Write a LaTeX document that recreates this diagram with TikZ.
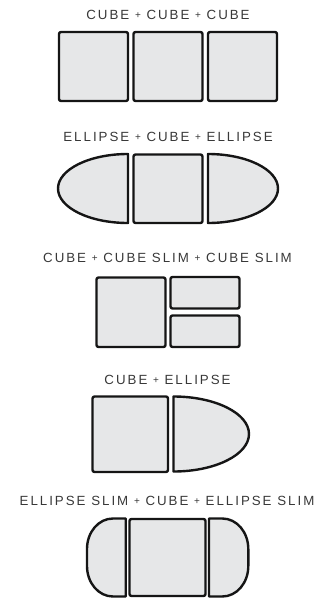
\documentclass[tikz,border=0pt]{standalone}
\usepackage{fontspec}
\setmainfont{Liberation Sans}[LetterSpace=15]
\definecolor{shapefill}{HTML}{E6E7E8}
\definecolor{shapeline}{HTML}{151515}
\definecolor{titletext}{HTML}{383838}
\newcommand\smallplus{{\fontsize{10}{12}\selectfont\raisebox{0.6pt}{+}}}
\tikzset{
  piece/.style={draw=shapeline, fill=shapefill, line width=2.4pt, line join=round},
  cube/.style={piece, rounded corners=2pt},
  title/.style={text=titletext, font=\fontsize{13.3}{15}\selectfont, inner sep=0pt, anchor=center},
}
\begin{document}
\begin{tikzpicture}[x=1pt,y=-1pt]
\useasboundingbox (0,0) rectangle (321,598);

% Row 1: CUBE + CUBE + CUBE
\node[title] (t1) at (168,14.5) {CUBE \smallplus{} CUBE \smallplus{} CUBE};
\draw[cube] (59,32) rectangle (128,101);
\draw[cube] (133.5,32) rectangle (202.5,101);
\draw[cube] (208,32) rectangle (277,101);

% Row 2: ELLIPSE + CUBE + ELLIPSE
\node[title] (t2) at (168,136.5) {ELLIPSE \smallplus{} CUBE \smallplus{} ELLIPSE};
\draw[piece] (128,154) .. controls (89.34,154) and (58,169.45) .. (58,188.5)
  .. controls (58,207.55) and (89.34,223) .. (128,223) -- cycle;
\draw[cube] (133.5,154.5) rectangle (202.5,223);
\draw[piece] (208,154) .. controls (246.66,154) and (278,169.45) .. (278,188.5)
  .. controls (278,207.55) and (246.66,223) .. (208,223) -- cycle;

% Row 3: CUBE + CUBE SLIM + CUBE SLIM
\node[title] (t3) at (167.5,258) {CUBE \smallplus{} CUBE SLIM \smallplus{} CUBE SLIM};
\draw[cube] (96.5,277.5) rectangle (165.5,347);
\draw[cube] (170.5,277) rectangle (239.5,308.5);
\draw[cube] (170.5,315.5) rectangle (239.5,347);

% Row 4: CUBE + ELLIPSE
\node[title] (t4) at (167.5,379.5) {CUBE \smallplus{} ELLIPSE};
\draw[cube] (92.5,396.5) rectangle (168,472);
\draw[piece] (173.5,396.5) .. controls (215.2,396.5) and (249,413.3) .. (249,434)
  .. controls (249,454.7) and (215.2,471.5) .. (173.5,471.5) -- cycle;

% Row 5: ELLIPSE SLIM + CUBE + ELLIPSE SLIM
\node[title] (t5) at (167,500.5) {ELLIPSE SLIM \smallplus{} CUBE \smallplus{} ELLIPSE SLIM};
\draw[piece] (125.7,518.5) -- (113,518.5) .. controls (98.6,518.5) and (87,532) .. (87,549)
  -- (87,566) .. controls (87,583) and (98.6,596.5) .. (113,596.5) -- (125.7,596.5) -- cycle;
\draw[cube] (129.5,519) rectangle (205.5,596);
\draw[piece] (209,518.5) -- (222.3,518.5) .. controls (236.7,518.5) and (248.3,532) .. (248.3,549)
  -- (248.3,566) .. controls (248.3,583) and (236.7,596.5) .. (222.3,596.5) -- (209,596.5) -- cycle;
\end{tikzpicture}
\end{document}
